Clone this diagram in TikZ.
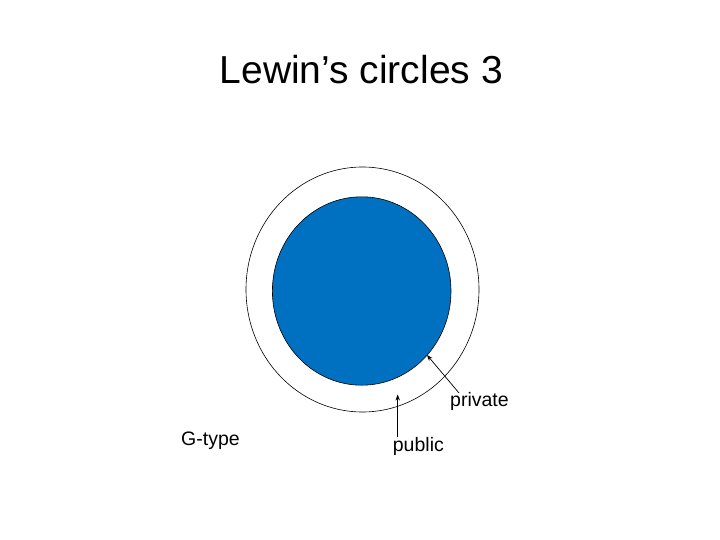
\documentclass[tikz,border=0pt]{standalone}
\usepackage{fontspec}
\setmainfont{Liberation Sans}
\usetikzlibrary{arrows.meta}
\definecolor{fillblue}{HTML}{0070C0}
\tikzset{
  ring/.style={draw=black, line width=0.6pt},
  label/.style={font=\fontsize{19.5}{23}\selectfont, inner sep=0pt, anchor=base west},
  pointer/.style={draw=black, line width=0.7pt, -{Stealth[length=6pt,width=4.5pt]}}
}
\begin{document}
\begin{tikzpicture}[x=1pt,y=-1pt]
\useasboundingbox (0,0) rectangle (720,540);
\node[font=\fontsize{39}{46}\selectfont, inner sep=0pt, anchor=base] (title) at (361.3,83.3) {Lewin’s circles 3};
\draw[ring, fill=white] (362.5,289.5) ellipse [x radius=116.5, y radius=122.5];
\draw[ring, fill=fillblue] (361.7,291) ellipse [x radius=89.3, y radius=94.2];
\node[label] (private) at (450,406) {private};
\node[label] (public) at (392.7,451) {public};
\node[label] (gtype) at (181,445.7) {G-type};
\coordinate (privtip) at (427,355);
\coordinate (privstart) at (459,393);
\coordinate (pubtip) at (397.7,394.5);
\coordinate (pubstart) at (397.7,437);
\draw[pointer] (privstart) -- (privtip);
\draw[pointer] (pubstart) -- (pubtip);
\end{tikzpicture}
\end{document}
